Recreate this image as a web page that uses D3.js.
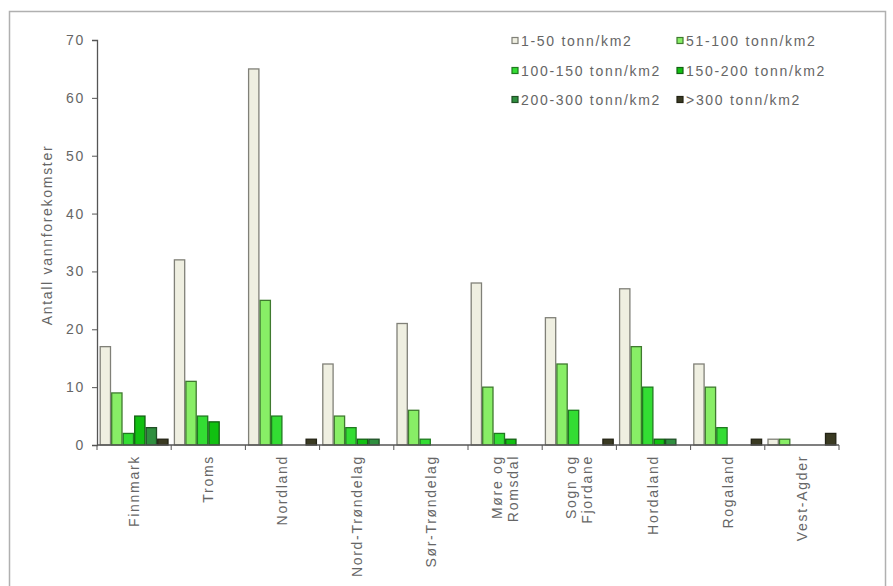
<!DOCTYPE html>
<html>
<head>
<meta charset="utf-8">
<script src="https://cdn.jsdelivr.net/npm/d3@7"></script>
<style>
  html, body { margin: 0; padding: 0; background: #fff; }
  svg { display: block; }
  text { font-family: "Liberation Sans", Arial, sans-serif; fill: #666; letter-spacing: 1.7px; }
</style>
</head>
<body>
<svg id="chart" width="893" height="586"></svg>
<script>
// Fylker (categories) — multi-line labels split with "\n"
const counties = ["Finnmark", "Troms", "Nordland", "Nord-Trøndelag", "Sør-Trøndelag",
  "Møre og\nRomsdal", "Sogn og\nFjordane", "Hordaland", "Rogaland", "Vest-Agder"];

// Belastningsklasser (series)
const classes = ["1-50 tonn/km2", "51-100 tonn/km2", "100-150 tonn/km2",
  "150-200 tonn/km2", "200-300 tonn/km2", ">300 tonn/km2"];

// Antall vannforekomster per klasse, one array per class in county order
const c1_50    = [17, 32, 65, 14, 21, 28, 22, 27, 14, 1];
const c51_100  = [ 9, 11, 25,  5,  6, 10, 14, 17, 10, 1];
const c100_150 = [ 2,  5,  5,  3,  1,  2,  6, 10,  3, 0];
const c150_200 = [ 5,  4,  0,  1,  0,  1,  0,  1,  0, 0];
const c200_300 = [ 3,  0,  0,  1,  0,  0,  0,  1,  0, 0];
const c300     = [ 1,  0,  1,  0,  0,  0,  1,  0,  1, 2];
const seriesValues = [c1_50, c51_100, c100_150, c150_200, c200_300, c300];

const yTicks = [0, 10, 20, 30, 40, 50, 60, 70];

const fills   = ["#efefe1", "#88ee66", "#33dd33", "#11c011", "#2f8f3f", "#3a3a22"];
const strokes = ["#808078", "#3f7a2f", "#1f7a1f", "#136013", "#1f4f25", "#222214"];

const svg = d3.select("#chart");

// outer frame
svg.append("rect")
  .attr("x", 9.5).attr("y", 11.5).attr("width", 876).attr("height", 600)
  .attr("fill", "none").attr("stroke", "#b0b0b0").attr("stroke-width", 1.5);

const m = { left: 97, right: 839, top: 40, bottom: 445 };

const x0 = d3.scaleBand().domain(counties).range([m.left, m.right]).paddingInner(0.07).paddingOuter(0.035);
const x1 = d3.scaleBand().domain(d3.range(classes.length)).range([0, x0.bandwidth()]).padding(0);
const y = d3.scaleLinear().domain([0, 70]).range([m.bottom, m.top]);

// bars
const groups = svg.append("g").selectAll("g")
  .data(counties)
  .join("g")
  .attr("transform", d => `translate(${x0(d)},0)`);

groups.selectAll("rect")
  .data((d, i) => seriesValues.map((vals, s) => ({ s, v: vals[i] })).filter(o => o.v > 0))
  .join("rect")
  .attr("x", d => x1(d.s) + 0.6)
  .attr("width", x1.bandwidth() - 1.2)
  .attr("y", d => y(d.v))
  .attr("height", d => y(0) - y(d.v))
  .attr("fill", d => fills[d.s])
  .attr("stroke", d => strokes[d.s])
  .attr("stroke-width", 1.3);

// y axis
const yAxis = svg.append("g")
  .attr("transform", `translate(${m.left},0)`)
  .call(d3.axisLeft(y).tickValues(yTicks).tickSize(5).tickPadding(7));
yAxis.select(".domain").attr("stroke", "#555").attr("stroke-width", 1.3);
yAxis.selectAll(".tick line").attr("stroke", "#555");
yAxis.selectAll(".tick text")
  .style("font-family", '"Liberation Sans", Arial, sans-serif')
  .style("font-size", "14px").attr("fill", "#666");

// x axis with ticks between categories
const xBoundaries = d3.range(counties.length + 1).map(i => m.left + i * (m.right - m.left) / counties.length);
svg.append("line")
  .attr("x1", m.left).attr("x2", m.right).attr("y1", y(0)).attr("y2", y(0))
  .attr("stroke", "#555").attr("stroke-width", 1.3);
svg.append("g").selectAll("line")
  .data(xBoundaries)
  .join("line")
  .attr("x1", d => d).attr("x2", d => d)
  .attr("y1", y(0)).attr("y2", y(0) + 5)
  .attr("stroke", "#555");

// rotated category labels
const lab = svg.append("g").selectAll("text")
  .data(counties)
  .join("text")
  .attr("transform", d => `translate(${x0(d) + x0.bandwidth() / 2},${y(0) + 10}) rotate(-90)`)
  .attr("text-anchor", "end")
  .style("font-size", "14px");
lab.each(function (d) {
  const lines = d.split("\n");
  const t = d3.select(this);
  const lh = 16;
  lines.forEach((ln, k) => {
    t.append("tspan")
      .attr("x", 0)
      .attr("y", (k - (lines.length - 1) / 2) * lh)
      .attr("dy", "0.35em")
      .text(ln);
  });
});

// y axis title
svg.append("text")
  .attr("transform", `translate(52,235) rotate(-90)`)
  .attr("text-anchor", "middle")
  .style("font-size", "14px")
  .text("Antall vannforekomster");

// legend: two columns, three rows
const legX = [512, 677], legY = [41, 71, 100];
const leg = svg.append("g").selectAll("g")
  .data(classes)
  .join("g")
  .attr("transform", (d, i) => `translate(${legX[i % 2]},${legY[Math.floor(i / 2)]})`);
leg.append("rect")
  .attr("x", 0).attr("y", -3.5).attr("width", 6).attr("height", 6)
  .attr("fill", (d, i) => fills[i]).attr("stroke", (d, i) => strokes[i]).attr("stroke-width", 1.2);
leg.append("text")
  .attr("x", 9).attr("y", 0).attr("dy", "0.35em")
  .style("font-size", "14px")
  .text(d => d);
</script>
</body>
</html>
